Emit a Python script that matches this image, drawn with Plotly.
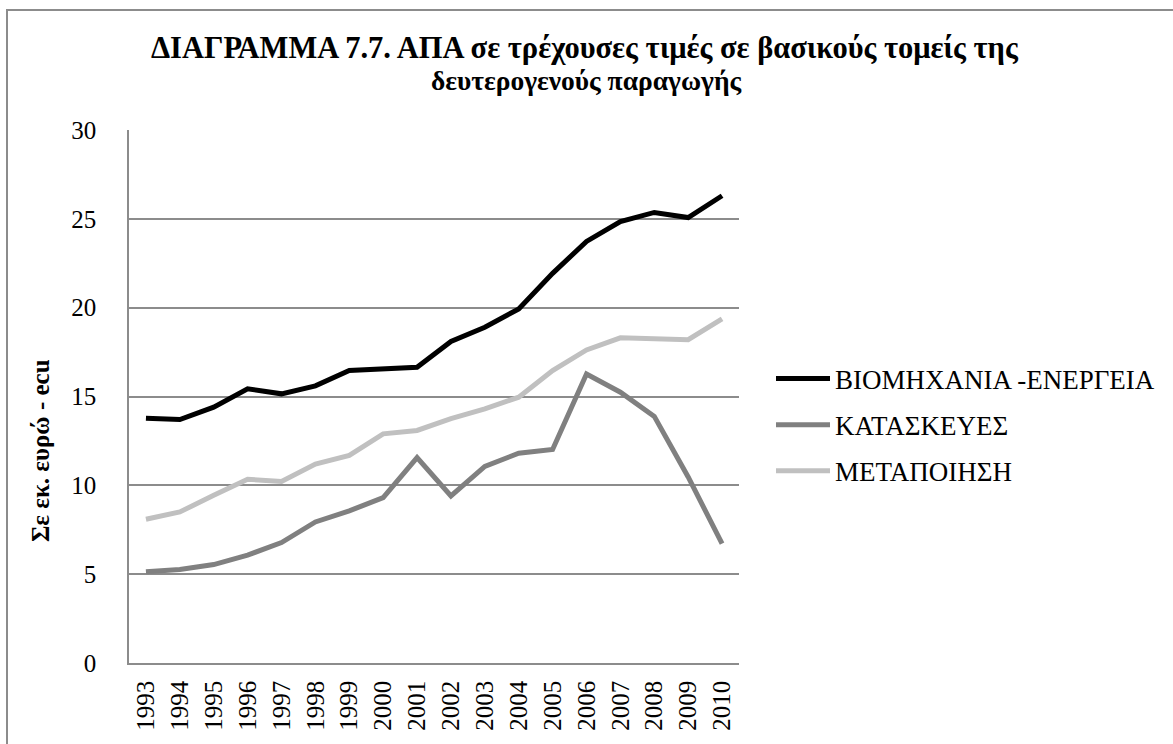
import plotly.graph_objects as go

years = [str(y) for y in range(1993, 2011)]
viomichania = [13.78, 13.70, 14.40, 15.43, 15.15, 15.60, 16.46, 16.55, 16.65, 18.10,
               18.90, 19.93, 21.93, 23.73, 24.85, 25.36, 25.07, 26.30]
kataskeves = [5.13, 5.26, 5.54, 6.07, 6.78, 7.94, 8.56, 9.31, 11.56, 9.40,
              11.07, 11.81, 12.02, 16.27, 15.24, 13.88, 10.47, 6.72]
metapoiisi = [8.09, 8.50, 9.44, 10.34, 10.22, 11.20, 11.69, 12.90, 13.09, 13.75,
              14.30, 14.96, 16.46, 17.62, 18.30, 18.24, 18.20, 19.37]

series_names = ["ΒΙΟΜΗΧΑΝΙΑ -ΕΝΕΡΓΕΙΑ", "ΚΑΤΑΣΚΕΥΕΣ", "ΜΕΤΑΠΟΙΗΣΗ"]
series_colors = ["#000000", "#808080", "#c0c0c0"]

title_line1 = "ΔΙΑΓΡΑΜΜΑ 7.7. ΑΠΑ σε τρέχουσες τιμές σε βασικούς τομείς της"
title_line2 = "δευτερογενούς παραγωγής"
y_title = "Σε εκ. ευρώ - ecu"

W, H = 1173, 744
L, R, T, B = 129, 739, 130, 663

fig = go.Figure()
for name, vals, col in zip(series_names, [viomichania, kataskeves, metapoiisi], series_colors):
    fig.add_trace(go.Scatter(x=years, y=vals, name=name, mode="lines", legendgroup=name,
                             line=dict(color=col, width=5)))

serif = "Liberation Serif, Times New Roman, serif"

def px_x(px):
    return (px - L) / (R - L)

def px_y(py):
    return (B - py) / (B - T)

fig.update_layout(
    width=W, height=H,
    margin=dict(l=L, r=W - R, t=T, b=H - B, autoexpand=False),
    paper_bgcolor="white", plot_bgcolor="white",
    font=dict(family=serif, size=25, color="black"),
    showlegend=True,
    legend=dict(x=px_x(771), xanchor="left", y=px_y(425), yanchor="middle",
                font=dict(family=serif, size=27, color="black"),
                bgcolor="rgba(0,0,0,0)", itemwidth=54, tracegroupgap=8),
    xaxis=dict(type="category", range=[-0.5, 17.5], showgrid=False,
               showline=True, linecolor="#8c8c8c", linewidth=1.5,
               tickangle=-90, ticks="", tickfont=dict(family=serif, size=25),
               ticklabelstandoff=6),
    yaxis=dict(range=[0, 30], dtick=5, showgrid=True, gridcolor="#8c8c8c", gridwidth=1.5,
               showline=True, linecolor="#8c8c8c", linewidth=1.5, zeroline=False,
               ticks="", tickfont=dict(family=serif, size=25), ticklabelstandoff=26),
)

fig.add_annotation(text="<b>" + title_line1 + "</b>", xref="paper", yref="paper",
                   x=px_x(585), y=px_y(48), xanchor="center", yanchor="middle",
                   showarrow=False, font=dict(family=serif, size=30.5, color="black"))
fig.add_annotation(text="<b>" + title_line2 + "</b>", xref="paper", yref="paper",
                   x=px_x(586), y=px_y(80), xanchor="center", yanchor="middle",
                   showarrow=False, font=dict(family=serif, size=27.5, color="black"))

fig.add_annotation(text="<b>" + y_title + "</b>", textangle=-90,
                   xref="paper", yref="paper", x=px_x(40), y=px_y(451),
                   xanchor="center", yanchor="middle", showarrow=False,
                   font=dict(family=serif, size=25, color="black"))

fig.add_shape(type="rect", xref="paper", yref="paper",
              x0=px_x(7), x1=px_x(1180), y0=px_y(10), y1=px_y(752),
              line=dict(color="#8c8c8c", width=2), fillcolor="rgba(0,0,0,0)", layer="below")

fig.write_html("out.html", config={"displayModeBar": False},
               post_script="document.body.style.margin='0';")
